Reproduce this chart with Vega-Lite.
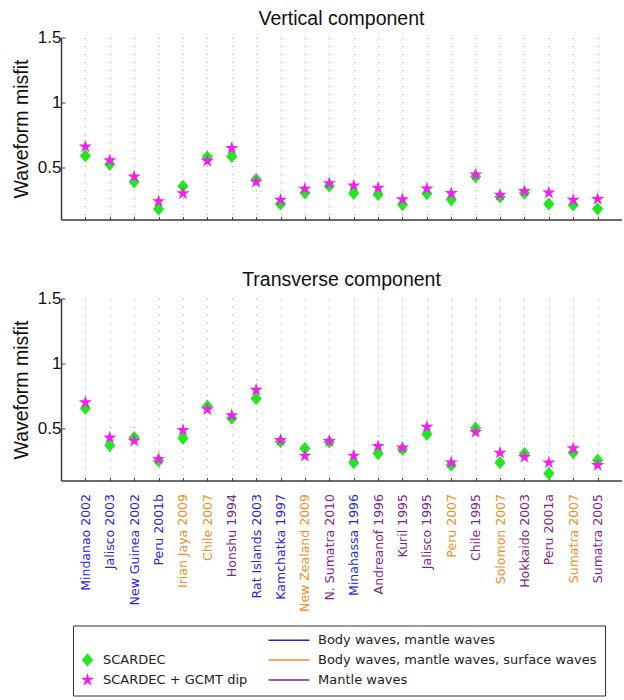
{
  "$schema": "https://vega.github.io/schema/vega-lite/v6.json",
  "padding": {"left": 11, "top": 8.5, "right": 0, "bottom": 0},
  "background": "white",
  "config": {
    "font": "Liberation Sans",
    "view": {"stroke": null},
    "title": {"font": "Liberation Sans", "fontSize": 19.5, "fontWeight": "normal", "color": "#111", "anchor": "middle", "frame": "group", "baseline": "alphabetic", "offset": -1},
    "legend": {"padding": 8, "labelFont": "DejaVu Sans", "labelFontSize": 13, "labelColor": "#222", "labelLimit": 400}
  },
  "datasets": {
    "vertical": [
      {"event": "Mindanao 2002", "type": "Body waves, mantle waves", "SCARDEC": 0.59, "SCARDEC + GCMT dip": 0.66},
      {"event": "Jalisco 2003", "type": "Body waves, mantle waves", "SCARDEC": 0.525, "SCARDEC + GCMT dip": 0.555},
      {"event": "New Guinea 2002", "type": "Body waves, mantle waves", "SCARDEC": 0.39, "SCARDEC + GCMT dip": 0.43},
      {"event": "Peru 2001b", "type": "Body waves, mantle waves", "SCARDEC": 0.18, "SCARDEC + GCMT dip": 0.24},
      {"event": "Irian Jaya 2009", "type": "Body waves, mantle waves, surface waves", "SCARDEC": 0.355, "SCARDEC + GCMT dip": 0.3},
      {"event": "Chile 2007", "type": "Body waves, mantle waves, surface waves", "SCARDEC": 0.58, "SCARDEC + GCMT dip": 0.55},
      {"event": "Honshu 1994", "type": "Mantle waves", "SCARDEC": 0.585, "SCARDEC + GCMT dip": 0.648},
      {"event": "Rat Islands 2003", "type": "Body waves, mantle waves", "SCARDEC": 0.408, "SCARDEC + GCMT dip": 0.39},
      {"event": "Kamchatka 1997", "type": "Body waves, mantle waves", "SCARDEC": 0.22, "SCARDEC + GCMT dip": 0.25},
      {"event": "New Zealand 2009", "type": "Body waves, mantle waves, surface waves", "SCARDEC": 0.305, "SCARDEC + GCMT dip": 0.336},
      {"event": "N. Sumatra 2010", "type": "Mantle waves", "SCARDEC": 0.358, "SCARDEC + GCMT dip": 0.378},
      {"event": "Minahassa 1996", "type": "Body waves, mantle waves", "SCARDEC": 0.302, "SCARDEC + GCMT dip": 0.36},
      {"event": "Andreanof 1996", "type": "Mantle waves", "SCARDEC": 0.293, "SCARDEC + GCMT dip": 0.343},
      {"event": "Kuril 1995", "type": "Mantle waves", "SCARDEC": 0.215, "SCARDEC + GCMT dip": 0.255},
      {"event": "Jalisco 1995", "type": "Mantle waves", "SCARDEC": 0.3, "SCARDEC + GCMT dip": 0.337},
      {"event": "Peru 2007", "type": "Body waves, mantle waves, surface waves", "SCARDEC": 0.254, "SCARDEC + GCMT dip": 0.302},
      {"event": "Chile 1995", "type": "Mantle waves", "SCARDEC": 0.43, "SCARDEC + GCMT dip": 0.445},
      {"event": "Solomon 2007", "type": "Body waves, mantle waves, surface waves", "SCARDEC": 0.275, "SCARDEC + GCMT dip": 0.29},
      {"event": "Hokkaido 2003", "type": "Mantle waves", "SCARDEC": 0.303, "SCARDEC + GCMT dip": 0.318},
      {"event": "Peru 2001a", "type": "Mantle waves", "SCARDEC": 0.22, "SCARDEC + GCMT dip": 0.306},
      {"event": "Sumatra 2007", "type": "Body waves, mantle waves, surface waves", "SCARDEC": 0.212, "SCARDEC + GCMT dip": 0.25},
      {"event": "Sumatra 2005", "type": "Mantle waves", "SCARDEC": 0.182, "SCARDEC + GCMT dip": 0.257}
    ],
    "transverse": [
      {"event": "Mindanao 2002", "type": "Body waves, mantle waves", "SCARDEC": 0.655, "SCARDEC + GCMT dip": 0.7},
      {"event": "Jalisco 2003", "type": "Body waves, mantle waves", "SCARDEC": 0.37, "SCARDEC + GCMT dip": 0.43},
      {"event": "New Guinea 2002", "type": "Body waves, mantle waves", "SCARDEC": 0.43, "SCARDEC + GCMT dip": 0.405},
      {"event": "Peru 2001b", "type": "Body waves, mantle waves", "SCARDEC": 0.252, "SCARDEC + GCMT dip": 0.265},
      {"event": "Irian Jaya 2009", "type": "Body waves, mantle waves, surface waves", "SCARDEC": 0.425, "SCARDEC + GCMT dip": 0.488},
      {"event": "Chile 2007", "type": "Body waves, mantle waves, surface waves", "SCARDEC": 0.671, "SCARDEC + GCMT dip": 0.646},
      {"event": "Honshu 1994", "type": "Mantle waves", "SCARDEC": 0.58, "SCARDEC + GCMT dip": 0.6},
      {"event": "Rat Islands 2003", "type": "Body waves, mantle waves", "SCARDEC": 0.73, "SCARDEC + GCMT dip": 0.796},
      {"event": "Kamchatka 1997", "type": "Body waves, mantle waves", "SCARDEC": 0.4, "SCARDEC + GCMT dip": 0.41},
      {"event": "New Zealand 2009", "type": "Body waves, mantle waves, surface waves", "SCARDEC": 0.346, "SCARDEC + GCMT dip": 0.29},
      {"event": "N. Sumatra 2010", "type": "Mantle waves", "SCARDEC": 0.397, "SCARDEC + GCMT dip": 0.403},
      {"event": "Minahassa 1996", "type": "Body waves, mantle waves", "SCARDEC": 0.238, "SCARDEC + GCMT dip": 0.29},
      {"event": "Andreanof 1996", "type": "Mantle waves", "SCARDEC": 0.307, "SCARDEC + GCMT dip": 0.364},
      {"event": "Kuril 1995", "type": "Mantle waves", "SCARDEC": 0.34, "SCARDEC + GCMT dip": 0.352},
      {"event": "Jalisco 1995", "type": "Mantle waves", "SCARDEC": 0.456, "SCARDEC + GCMT dip": 0.512},
      {"event": "Peru 2007", "type": "Body waves, mantle waves, surface waves", "SCARDEC": 0.218, "SCARDEC + GCMT dip": 0.238},
      {"event": "Chile 1995", "type": "Mantle waves", "SCARDEC": 0.503, "SCARDEC + GCMT dip": 0.472},
      {"event": "Solomon 2007", "type": "Body waves, mantle waves, surface waves", "SCARDEC": 0.238, "SCARDEC + GCMT dip": 0.313},
      {"event": "Hokkaido 2003", "type": "Mantle waves", "SCARDEC": 0.307, "SCARDEC + GCMT dip": 0.28},
      {"event": "Peru 2001a", "type": "Mantle waves", "SCARDEC": 0.154, "SCARDEC + GCMT dip": 0.238},
      {"event": "Sumatra 2007", "type": "Body waves, mantle waves, surface waves", "SCARDEC": 0.315, "SCARDEC + GCMT dip": 0.346},
      {"event": "Sumatra 2005", "type": "Mantle waves", "SCARDEC": 0.256, "SCARDEC + GCMT dip": 0.218}
    ]
  },
  "spacing": 49,
  "vconcat": [
    {
      "title": {"text": "Vertical component"},
      "width": 561,
      "height": 182,
      "data": {"name": "vertical"},
      "transform": [{"fold": ["SCARDEC", "SCARDEC + GCMT dip"], "as": ["method", "misfit"]}],
      "mark": {"type": "point", "filled": true, "size": 196, "strokeWidth": 0, "opacity": 1},
      "encoding": {
        "x": {"field": "event", "type": "nominal", "sort": null, "scale": {"type": "point", "padding": 1},
          "axis": {"title": null, "labels": false, "grid": true, "gridDash": [1, 7], "gridColor": "#a8a8a8", "gridWidth": 1, "tickSize": -3, "tickColor": "#444", "domainColor": "#3a3a3a", "domainWidth": 1.5}},
        "y": {"field": "misfit", "type": "quantitative", "scale": {"domain": [0.1, 1.5], "nice": false, "zero": false},
          "axis": {"values": [0.5, 1, 1.5], "format": "~g", "title": "Waveform misfit", "grid": false, "tickSize": -4, "tickColor": "#444", "domainColor": "#3a3a3a", "domainWidth": 1.5, "labelFont": "Liberation Sans", "labelFontSize": 17, "labelColor": "#111", "labelPadding": 4, "labelFlush": false, "titleFont": "Liberation Sans", "titleFontSize": 19.5, "titleFontWeight": "normal", "titleColor": "#111", "titlePadding": 6}},
        "color": {"field": "method", "type": "nominal",
          "scale": {"domain": [" ", "SCARDEC", "SCARDEC + GCMT dip", "Body waves, mantle waves", "Body waves, mantle waves, surface waves", "Mantle waves"], "range": ["transparent", "#22e622", "#f020f0", "#2424dc", "#f38a22", "#80228c"]},
          "legend": {"title": null, "orient": "none", "legendX": 12, "legendY": 588, "columns": 2, "symbolSize": 196, "rowPadding": 5, "columnPadding": 17, "labelOffset": 9, "strokeColor": "#333",
            "encode": {"symbols": {"update": {
              "shape": {"signal": "datum.value === 'SCARDEC' ? 'M0,-0.95L0.8,0L0,0.95L-0.8,0Z' : datum.value === 'SCARDEC + GCMT dip' ? 'M0,-1L0.2234,-0.3074L0.951,-0.309L0.3614,0.1174L0.588,0.809L0,0.38L-0.588,0.809L-0.3614,0.1174L-0.951,-0.309L-0.2234,-0.3074Z' : 'M-4.86,0L1,0'"},
              "strokeWidth": {"signal": "datum.value === 'SCARDEC' || datum.value === 'SCARDEC + GCMT dip' ? 0 : 1.5"},
              "stroke": {"scale": "color", "field": "value"},
              "fill": {"scale": "color", "field": "value"},
              "opacity": {"value": 1}}}}}},
        "shape": {"field": "method", "type": "nominal", "scale": {"domain": ["SCARDEC", "SCARDEC + GCMT dip"], "range": ["M0,-0.95L0.8,0L0,0.95L-0.8,0Z", "M0,-1L0.2234,-0.3074L0.951,-0.309L0.3614,0.1174L0.588,0.809L0,0.38L-0.588,0.809L-0.3614,0.1174L-0.951,-0.309L-0.2234,-0.3074Z"]}, "legend": null}
      }
    },
    {
      "title": {"text": "Transverse component"},
      "width": 561,
      "height": 182,
      "data": {"name": "transverse"},
      "layer": [
        {
          "transform": [{"fold": ["SCARDEC", "SCARDEC + GCMT dip"], "as": ["method", "misfit"]}],
          "mark": {"type": "point", "filled": true, "size": 196, "strokeWidth": 0, "opacity": 1},
          "encoding": {
            "x": {"field": "event", "type": "nominal", "sort": null, "scale": {"type": "point", "padding": 1},
              "axis": {"title": null, "grid": true, "gridDash": [1, 7], "gridColor": "#a8a8a8", "gridWidth": 1, "tickSize": -3, "tickColor": "#444", "domainColor": "#3a3a3a", "domainWidth": 1.5, "labelAngle": -90, "labelFont": "DejaVu Sans", "labelFontSize": 12.5, "labelPadding": 16, "labelOverlap": false,
                "labelColor": {"condition": [
                  {"test": "indexof(['Irian Jaya 2009','Chile 2007','New Zealand 2009','Peru 2007','Solomon 2007','Sumatra 2007'], datum.value) >= 0", "value": "#f38a22"},
                  {"test": "indexof(['Honshu 1994','N. Sumatra 2010','Andreanof 1996','Kuril 1995','Jalisco 1995','Chile 1995','Hokkaido 2003','Peru 2001a','Sumatra 2005'], datum.value) >= 0", "value": "#80228c"}
                ], "value": "#2424dc"}}},
            "y": {"field": "misfit", "type": "quantitative", "scale": {"domain": [0.1, 1.5], "nice": false, "zero": false},
              "axis": {"values": [0.5, 1, 1.5], "format": "~g", "title": "Waveform misfit", "grid": false, "tickSize": -4, "tickColor": "#444", "domainColor": "#3a3a3a", "domainWidth": 1.5, "labelFont": "Liberation Sans", "labelFontSize": 17, "labelColor": "#111", "labelPadding": 4, "labelFlush": false, "titleFont": "Liberation Sans", "titleFontSize": 19.5, "titleFontWeight": "normal", "titleColor": "#111", "titlePadding": 6}},
            "color": {"field": "method", "type": "nominal",
              "scale": {"domain": [" ", "SCARDEC", "SCARDEC + GCMT dip", "Body waves, mantle waves", "Body waves, mantle waves, surface waves", "Mantle waves"], "range": ["transparent", "#22e622", "#f020f0", "#2424dc", "#f38a22", "#80228c"]},
              "legend": {"title": null, "orient": "none", "legendX": 12, "legendY": 588, "columns": 2, "symbolSize": 196, "rowPadding": 5, "columnPadding": 17, "labelOffset": 9, "strokeColor": "#333",
                "encode": {"symbols": {"update": {
                  "shape": {"signal": "datum.value === 'SCARDEC' ? 'M0,-0.95L0.8,0L0,0.95L-0.8,0Z' : datum.value === 'SCARDEC + GCMT dip' ? 'M0,-1L0.2234,-0.3074L0.951,-0.309L0.3614,0.1174L0.588,0.809L0,0.38L-0.588,0.809L-0.3614,0.1174L-0.951,-0.309L-0.2234,-0.3074Z' : 'M-4.86,0L1,0'"},
                  "strokeWidth": {"signal": "datum.value === 'SCARDEC' || datum.value === 'SCARDEC + GCMT dip' ? 0 : 1.5"},
                  "stroke": {"scale": "color", "field": "value"},
                  "fill": {"scale": "color", "field": "value"},
                  "opacity": {"value": 1}}}}}},
            "shape": {"field": "method", "type": "nominal", "scale": {"domain": ["SCARDEC", "SCARDEC + GCMT dip"], "range": ["M0,-0.95L0.8,0L0,0.95L-0.8,0Z", "M0,-1L0.2234,-0.3074L0.951,-0.309L0.3614,0.1174L0.588,0.809L0,0.38L-0.588,0.809L-0.3614,0.1174L-0.951,-0.309L-0.2234,-0.3074Z"]}, "legend": null}
          }
        },
        {
          "mark": {"type": "rule", "strokeWidth": 1.5, "strokeCap": "butt"},
          "encoding": {
            "x": {"field": "event", "type": "nominal", "sort": null},
            "y": {"datum": 0.1},
            "y2": {"datum": 0.1},
            "color": {"field": "type", "type": "nominal",
              "scale": {"domain": [" ", "SCARDEC", "SCARDEC + GCMT dip", "Body waves, mantle waves", "Body waves, mantle waves, surface waves", "Mantle waves"], "range": ["transparent", "#22e622", "#f020f0", "#2424dc", "#f38a22", "#80228c"]},
              "legend": {"title": null, "orient": "none", "legendX": 12, "legendY": 588, "columns": 2, "symbolSize": 196, "rowPadding": 5, "columnPadding": 17, "labelOffset": 9, "strokeColor": "#333",
                "encode": {"symbols": {"update": {
                  "shape": {"signal": "datum.value === 'SCARDEC' ? 'M0,-0.95L0.8,0L0,0.95L-0.8,0Z' : datum.value === 'SCARDEC + GCMT dip' ? 'M0,-1L0.2234,-0.3074L0.951,-0.309L0.3614,0.1174L0.588,0.809L0,0.38L-0.588,0.809L-0.3614,0.1174L-0.951,-0.309L-0.2234,-0.3074Z' : 'M-4.86,0L1,0'"},
                  "strokeWidth": {"signal": "datum.value === 'SCARDEC' || datum.value === 'SCARDEC + GCMT dip' ? 0 : 1.5"},
                  "stroke": {"scale": "color", "field": "value"},
                  "fill": {"scale": "color", "field": "value"},
                  "opacity": {"value": 1}}}}}}
          }
        }
      ]
    }
  ]
}
